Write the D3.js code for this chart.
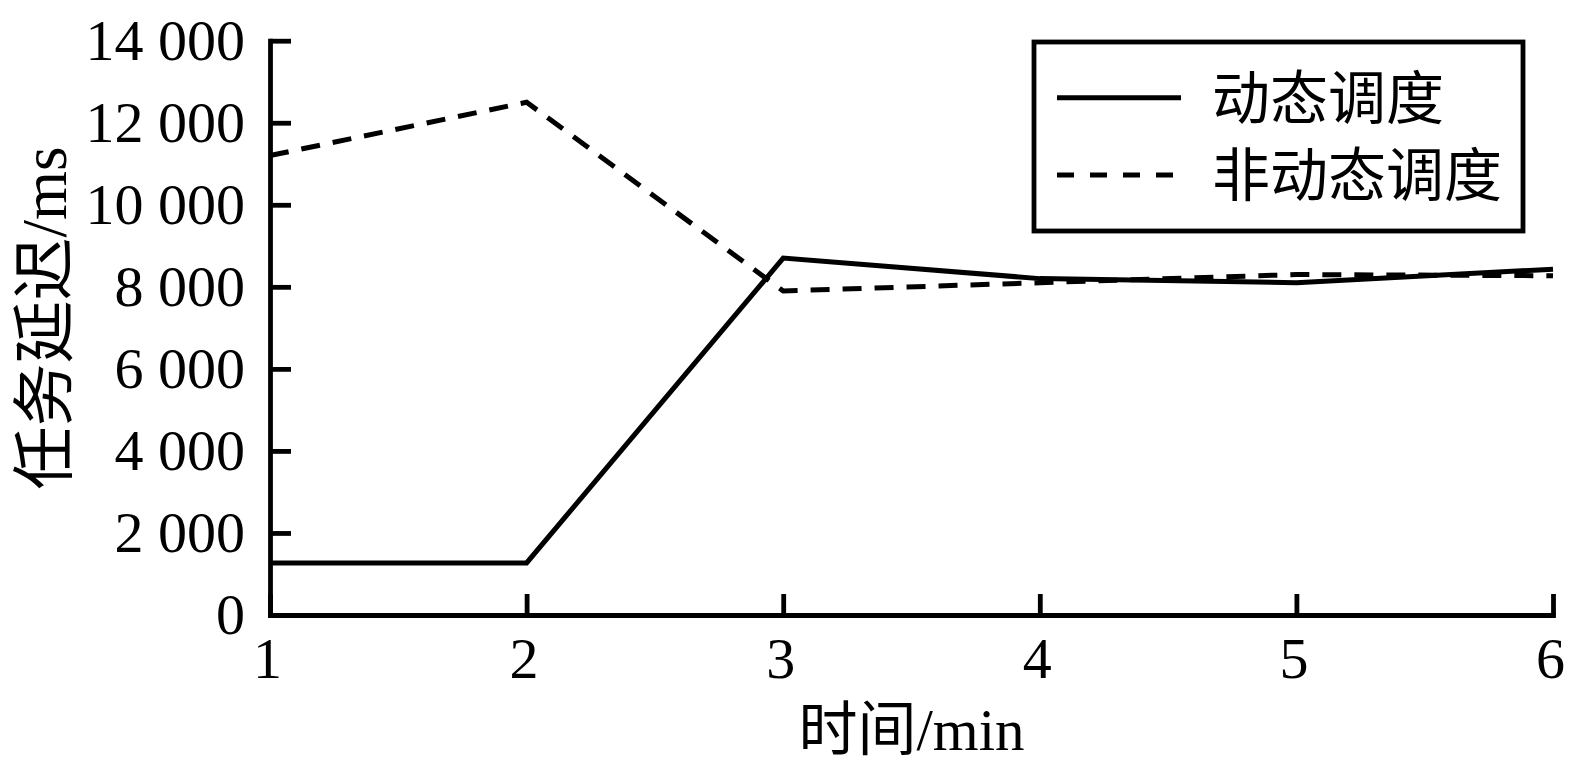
<!DOCTYPE html>
<html>
<head>
<meta charset="utf-8">
<script src="https://cdn.jsdelivr.net/npm/d3@7"></script>
<style>
  html, body { margin: 0; padding: 0; background: #fff; }
  svg { display: block; }
</style>
</head>
<body>
<svg id="chart" width="1583" height="771"></svg>
<script>
// ---- data ----
const minutes = [1, 2, 3, 4, 5, 6];
const dynamicDelay = [1270, 1270, 8700, 8200, 8100, 8430];
const staticDelay = [11200, 12500, 7900, 8100, 8300, 8270];
const yTicks = [0, 2000, 4000, 6000, 8000, 10000, 12000, 14000];
const xTicks = [1, 2, 3, 4, 5, 6];
const seriesNames = ["动态调度", "非动态调度"];
const xTitle = "时间/min";
const yTitle = "任务延迟/ms";

// ---- layout ----
const svg = d3.select("#chart");
const m = { left: 270, right: 1553, top: 40.7, bottom: 615 };
const latin = "'Liberation Serif', 'Times New Roman', 'Noto Sans CJK SC', serif";

const x = d3.scaleLinear().domain([1, 6]).range([m.left, m.right]);
const y = d3.scaleLinear().domain([0, 14000]).range([m.bottom, m.top]);

const fmt = d3.formatLocale({ decimal: ".", thousands: " ", grouping: [3], currency: ["", ""] }).format(",d");

const tickLen = 21;
const axisW = 4.8;

// y axis
const gy = svg.append("g").attr("transform", `translate(${m.left},0)`)
  .call(d3.axisLeft(y).tickValues(yTicks).tickFormat(fmt).tickSizeInner(-tickLen).tickSizeOuter(0).tickPadding(25));
// x axis
const gx = svg.append("g").attr("transform", `translate(0,${m.bottom})`)
  .call(d3.axisBottom(x).tickValues(xTicks).tickFormat(d3.format("d")).tickSizeInner(-tickLen).tickSizeOuter(0).tickPadding(22));

[gy, gx].forEach(g => {
  g.select(".domain").attr("stroke", "#000").attr("stroke-width", axisW).attr("stroke-linecap", "square");
  g.selectAll(".tick line").attr("stroke", "#000").attr("stroke-width", axisW);
  g.selectAll(".tick text").attr("fill", "#000").style("font-family", latin).style("font-size", "58px");
});
gx.selectAll(".tick text").attr("dx", "-3");

// lines
const line = d3.line().x((d, i) => x(minutes[i])).y(d => y(d));
svg.append("path").datum(dynamicDelay).attr("d", line)
  .attr("fill", "none").attr("stroke", "#000").attr("stroke-width", 5).attr("stroke-linejoin", "miter");
svg.append("path").datum(staticDelay).attr("d", line)
  .attr("fill", "none").attr("stroke", "#000").attr("stroke-width", 5).attr("stroke-linejoin", "miter")
  .attr("stroke-dasharray", "19,13");

// axis titles
svg.append("text").attr("x", (m.left + m.right) / 2).attr("y", 750)
  .attr("text-anchor", "middle").style("font-family", latin).style("font-size", "59px").attr("fill", "#000")
  .text(xTitle);
svg.append("text").attr("transform", `translate(43,318) rotate(-90)`)
  .attr("text-anchor", "middle").attr("dy", "0.36em").style("font-family", latin).style("font-size", "63px").attr("fill", "#000")
  .text(yTitle);

// legend
const lg = svg.append("g");
lg.append("rect").attr("x", 1034).attr("y", 42).attr("width", 489).attr("height", 189)
  .attr("fill", "#fff").attr("stroke", "#000").attr("stroke-width", 4.8);
const rows = [97.7, 175];
seriesNames.forEach((name, i) => {
  lg.append("line").attr("x1", 1057).attr("x2", 1181).attr("y1", rows[i]).attr("y2", rows[i])
    .attr("stroke", "#000").attr("stroke-width", 5)
    .attr("stroke-dasharray", i === 1 ? "17,16" : null);
  lg.append("text").attr("x", 1212).attr("y", rows[i] + 21)
    .style("font-family", "'Noto Sans CJK SC', sans-serif").style("font-size", "58px").attr("fill", "#000")
    .text(name);
});
</script>
</body>
</html>
